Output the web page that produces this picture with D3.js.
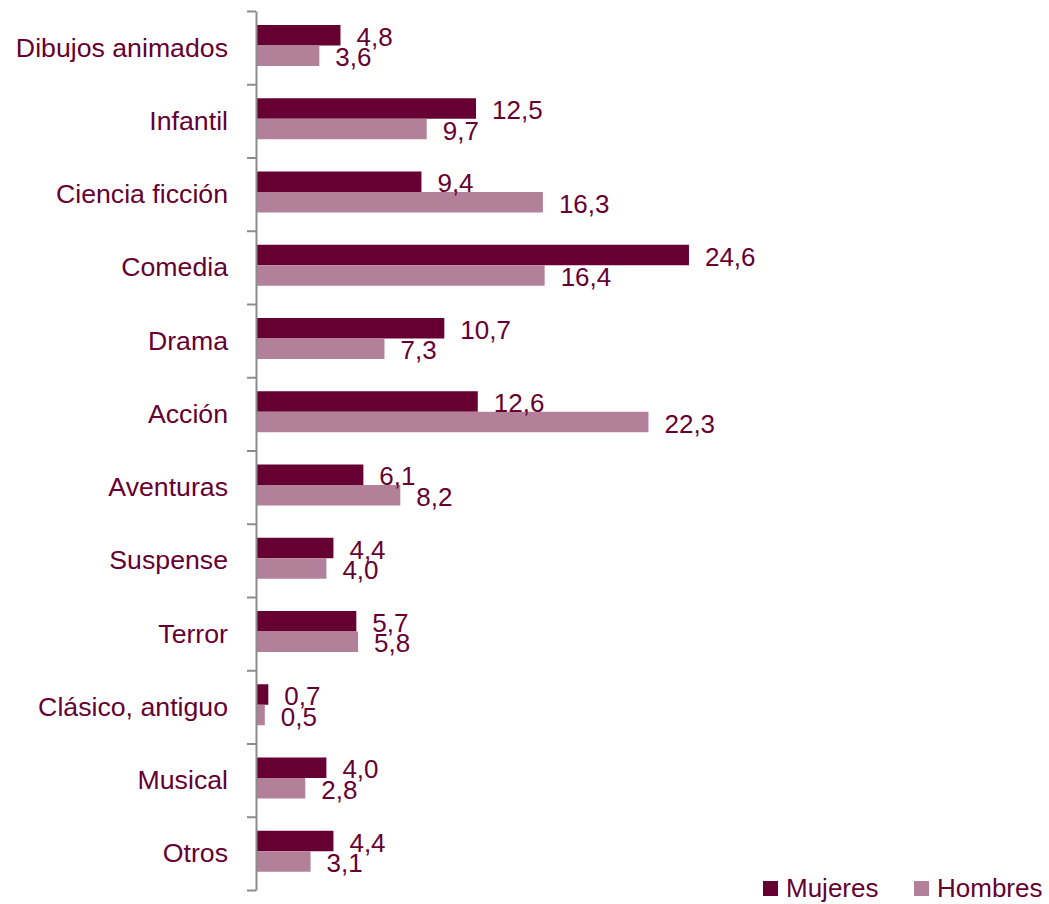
<!DOCTYPE html>
<html>
<head>
<meta charset="utf-8">
<script src="https://cdn.jsdelivr.net/npm/d3@7"></script>
<style>
  body { margin: 0; background: #fff; }
  svg text { font-family: "Liberation Sans", Arial, sans-serif; fill: #660033; }
</style>
</head>
<body>
<div class="chart"></div>
<script>
// datos
var categorias = ["Dibujos animados", "Infantil", "Ciencia ficción", "Comedia", "Drama", "Acción",
                  "Aventuras", "Suspense", "Terror", "Clásico, antiguo", "Musical", "Otros"];
var series = ["Mujeres", "Hombres"];
var mujeres = [4.8, 12.5, 9.4, 24.6, 10.7, 12.6, 6.1, 4.4, 5.7, 0.7, 4.0, 4.4];
var hombres = [3.6, 9.7, 16.3, 16.4, 7.3, 22.3, 8.2, 4.0, 5.8, 0.5, 2.8, 3.1];
var colores = {"Mujeres": "#660033", "Hombres": "#b3809a"};

function make_chart() {
    var w = 1049, h = 904;
    var top = 11, bottom = 890, left = 256;

    var svg = d3.select(".chart").append("svg")
                .attr("width", w)
                .attr("height", h);

    var x = d3.scaleLinear().domain([0, 25]).range([left, left + 25 * 17.6]);
    var y = d3.scaleBand().domain(categorias).range([top, bottom]).padding(0);
    var ySub = d3.scaleBand().domain(series).range([14, 55]);
    var edges = d3.scaleLinear().domain([0, categorias.length]).range([top, bottom]);

    var loc = d3.formatLocale({decimal: ",", thousands: ".", grouping: [3], currency: ["", "€"]});
    var fmt = loc.format(".1f");

    var data = categorias.map(function(c, i) {
        return {cat: c, vals: [{s: "Mujeres", v: mujeres[i]}, {s: "Hombres", v: hombres[i]}]};
    });

    var g = svg.selectAll(".grupo")
               .data(data)
               .enter()
               .append("g")
               .attr("class", "grupo")
               .attr("transform", function(d) { return "translate(0," + y(d.cat) + ")"; });

    g.selectAll("rect")
     .data(function(d) { return d.vals; })
     .enter()
     .append("rect")
     .attr("x", x(0))
     .attr("y", function(d) { return ySub(d.s); })
     .attr("width", function(d) { return x(d.v) - x(0); })
     .attr("height", ySub.bandwidth())
     .attr("fill", function(d) { return colores[d.s]; });

    g.selectAll("text.valor")
     .data(function(d) { return d.vals; })
     .enter()
     .append("text")
     .attr("class", "valor")
     .attr("x", function(d) { return x(d.v) + 16; })
     .attr("y", function(d) { return ySub(d.s) + ySub.bandwidth() / 2 + 10.5; })
     .attr("font-size", 26)
     .text(function(d) { return fmt(d.v); });

    // etiquetas de categoria
    svg.selectAll("text.cat")
       .data(categorias)
       .enter()
       .append("text")
       .attr("class", "cat")
       .attr("x", 228)
       .attr("y", function(d) { return y(d) + y.bandwidth() / 2 + 9; })
       .attr("text-anchor", "end")
       .attr("font-size", 26.7)
       .text(function(d) { return d; });

    // eje
    var axis = svg.append("g")
       .attr("transform", "translate(" + left + ",0)")
       .call(d3.axisLeft(edges).tickValues(d3.range(0, categorias.length + 1))
               .tickFormat("").tickSize(9).tickSizeOuter(0));
    axis.select(".domain").attr("stroke", "#8c8c8c").attr("stroke-width", 2);
    axis.selectAll(".tick line").attr("stroke", "#8c8c8c").attr("stroke-width", 2);

    // leyenda
    var leg = svg.selectAll(".leg")
                 .data(series)
                 .enter()
                 .append("g")
                 .attr("class", "leg")
                 .attr("transform", function(d, i) { return "translate(" + (i == 0 ? 763 : 914) + ",881)"; });
    leg.append("rect")
       .attr("width", 15).attr("height", 15)
       .attr("fill", function(d) { return colores[d]; });
    leg.append("text")
       .attr("x", 23)
       .attr("y", 16)
       .attr("font-size", 26)
       .text(function(d) { return d; });
}

make_chart();
</script>
</body>
</html>
